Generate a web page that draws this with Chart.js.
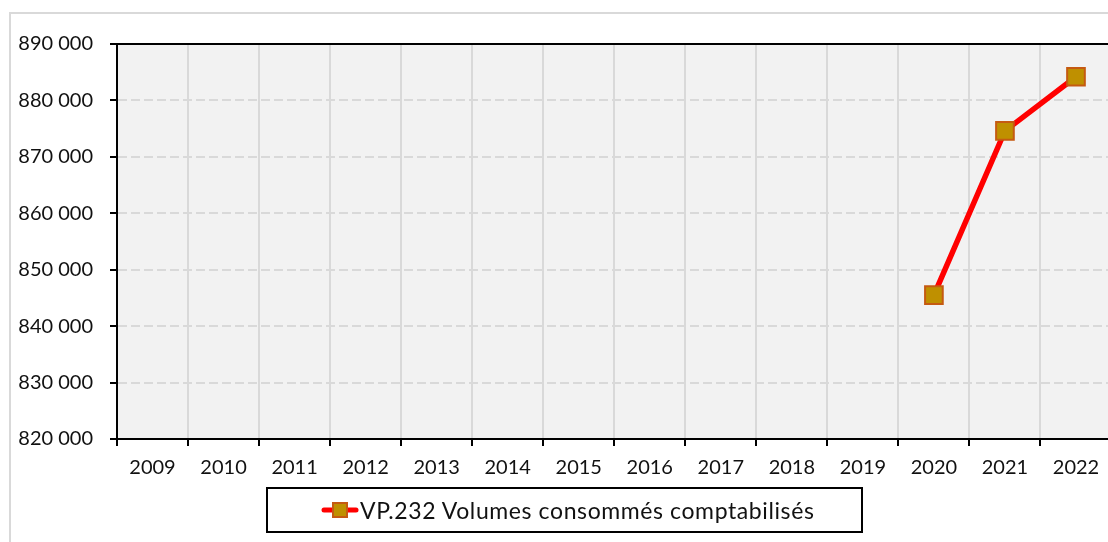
<!DOCTYPE html>
<html>
<head>
    <title>VP.232 Volumes consommés comptabilisés</title>
    <style>
        body, html {
            margin: 0;
            width: 1108px;
            height: 542px;
            overflow: hidden;
            background: #ffffff;
            font-family: Lato, "Open Sans", sans-serif;
        }
        #frame {
            position: absolute;
            left: 9px;
            top: 12px;
            width: 1200px;
            height: 600px;
            border: 2px solid #d9d9d9;
            box-sizing: border-box;
        }
        #myChart {
            position: absolute;
            left: 0;
            top: 0;
        }
        #legend {
            position: absolute;
            left: 266px;
            top: 487px;
            width: 597px;
            height: 46px;
            border: 2px solid #000;
            box-sizing: border-box;
            display: flex;
            align-items: center;
            padding-left: 53px;
            font-size: 23px;
            letter-spacing: 0.6px;
            color: #111;
        }
        #legend canvas { margin-right: 1px; }
    </style>
</head>
<body>
    <div id="frame"></div>
    <canvas id="myChart" width="1126" height="542"></canvas>
    <div id="legend"><canvas id="legendMark" width="38" height="22"></canvas><span id="legendText"></span></div>
    <script src="https://cdn.jsdelivr.net/npm/chart.js"></script>
    <script>
        const years = ['2009', '2010', '2011', '2012', '2013', '2014', '2015',
                       '2016', '2017', '2018', '2019', '2020', '2021', '2022'];
        const volumes = [null, null, null, null, null, null, null,
                         null, null, null, null, 845500, 874600, 884200];
        const seriesName = 'VP.232 Volumes consommés comptabilisés';
        const yMin = 820000;
        const yMax = 890000;
        const yStep = 10000;

        const lineColor = '#ff0000';
        const markerFill = '#bf9000';
        const markerBorder = '#c55a11';

        function fmt(v) {
            return String(v).replace(/\B(?=(\d{3})+(?!\d))/g, ' ');
        }

        const plotFrame = {
            id: 'plotFrame',
            beforeDraw(chart) {
                const a = chart.chartArea, ctx = chart.ctx;
                ctx.save();
                ctx.fillStyle = '#f2f2f2';
                ctx.fillRect(a.left, a.top, a.right - a.left, a.bottom - a.top);
                ctx.restore();
            },
            afterDatasetsDraw(chart) {
                const a = chart.chartArea, ctx = chart.ctx;
                ctx.save();
                ctx.strokeStyle = '#000';
                ctx.lineWidth = 2;
                ctx.beginPath();
                ctx.moveTo(a.left - 7, a.top);
                ctx.lineTo(a.right, a.top);
                ctx.stroke();
                ctx.restore();
            }
        };

        const tickFont = { family: 'Lato', size: 20 };

        new Chart(document.getElementById('myChart'), {
            type: 'line',
            data: {
                labels: years,
                datasets: [{
                    label: seriesName,
                    data: volumes,
                    borderColor: lineColor,
                    borderWidth: 5.5,
                    pointStyle: 'rect',
                    pointRadius: 12.5,
                    pointBackgroundColor: markerFill,
                    pointBorderColor: markerBorder,
                    pointBorderWidth: 2,
                    spanGaps: false,
                    tension: 0
                }]
            },
            options: {
                responsive: false,
                animation: false,
                layout: { padding: { left: 12, top: 44, right: 9, bottom: 0 } },
                plugins: { legend: { display: false }, tooltip: { enabled: false } },
                scales: {
                    x: {
                        offset: true,
                        grid: {
                            offset: true,
                            color: '#d9d9d9',
                            lineWidth: 2,
                            tickColor: '#000',
                            tickLength: 7,
                            tickWidth: 2
                        },
                        border: { color: '#000', width: 2 },
                        ticks: { color: '#111', font: tickFont, padding: 10, maxRotation: 0 },
                        afterFit(s) { s.height = 103; }
                    },
                    y: {
                        min: yMin,
                        max: yMax,
                        grid: {
                            color: '#d9d9d9',
                            lineWidth: 2,
                            tickColor: '#000',
                            tickLength: 7,
                            tickWidth: 2
                        },
                        border: { color: '#000', width: 2, dash: [9, 4] },
                        ticks: {
                            stepSize: yStep,
                            color: '#111',
                            font: tickFont,
                            padding: 17,
                            callback: v => fmt(v)
                        },
                        afterFit(s) { s.width = 105; }
                    }
                }
            },
            plugins: [plotFrame]
        });

        // legend sample: line with square marker
        document.getElementById('legendText').textContent = seriesName;
        const lc = document.getElementById('legendMark').getContext('2d');
        lc.strokeStyle = lineColor;
        lc.lineWidth = 5;
        lc.lineCap = 'round';
        lc.beginPath();
        lc.moveTo(3, 11);
        lc.lineTo(35, 11);
        lc.stroke();
        lc.fillStyle = markerFill;
        lc.strokeStyle = markerBorder;
        lc.lineWidth = 2;
        lc.fillRect(12, 4, 14, 14);
        lc.strokeRect(12, 4, 14, 14);
    </script>
</body>
</html>
